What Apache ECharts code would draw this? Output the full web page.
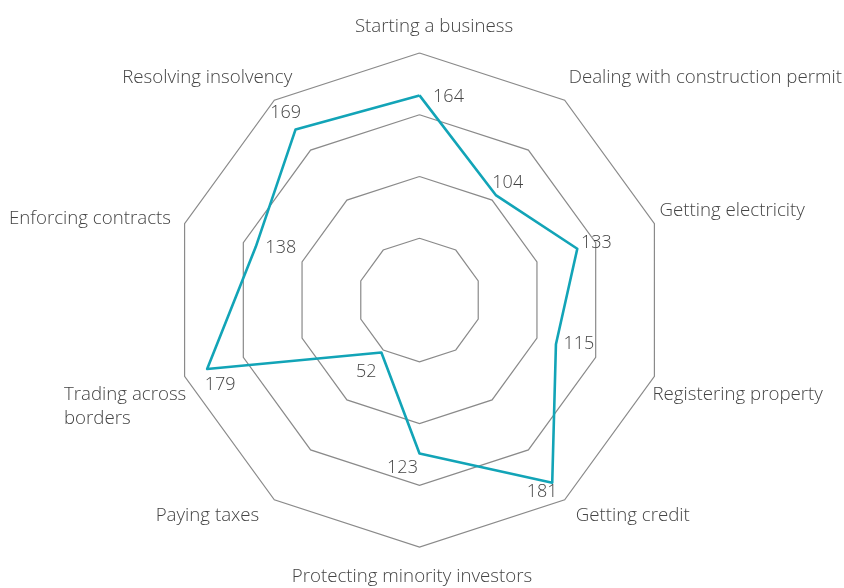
<!DOCTYPE html>
<html>
<head>
<meta charset="utf-8">
<script src="https://cdn.jsdelivr.net/npm/echarts@6/dist/echarts.min.js"></script>
<style>
html,body{margin:0;padding:0;background:#fff;}
#chart{width:844px;height:588px;}
</style>
</head>
<body>
<div id="chart"></div>
<script>
// Indicators in clockwise order starting at the top
const indicators = [
  'Starting a business',
  'Dealing with construction permit',
  'Getting electricity',
  'Registering property',
  'Getting credit',
  'Protecting minority investors',
  'Paying taxes',
  'Trading across\nborders',
  'Enforcing contracts',
  'Resolving insolvency'
];
const values = [164, 104, 133, 115, 181, 123, 52, 179, 138, 169];
const axisMax = 198;

// styling: value label offsets from each point, and name placement from each outer vertex
const labelOffsets = [[29,1],[12,-12],[19,-6],[23,0],[-10,9],[-17,14],[-15,19],[13,16],[25,1],[-10,-17]];
const nameOffsets = [[14.5,-26],[4,-22],[5,-13],[-2,18],[11,16],[-7.5,30],[-15,16],[-120.6,30],[-13.6,-5],[18,-22]];
const nameAligns = ['center','left','left','left','left','center','right','left','right','right'];

// ECharts radar runs counter-clockwise: reorder so that the picture runs clockwise
const order = indicators.map((_, i) => (indicators.length - i) % indicators.length);
const libIndicators = order.map(i => indicators[i]);
const libValues = order.map(i => values[i]);

const chart = echarts.init(document.getElementById('chart'));
const font = '"Open Sans", "Noto Sans", sans-serif';
chart.setOption({
  animation: false,
  backgroundColor: '#fff',
  radar: {
    center: [419.5, 300],
    radius: 247,
    startAngle: 90,
    splitNumber: 4,
    shape: 'polygon',
    indicator: libIndicators.map(n => ({ name: n, max: axisMax, min: 0 })),
    axisName: { show: false },
    axisLine: { show: false },
    axisTick: { show: false },
    axisLabel: { show: false },
    splitArea: { show: false },
    splitLine: { lineStyle: { color: '#8a8a8a', width: 1.2 } }
  },
  series: [{
    type: 'radar',
    symbol: 'none',
    lineStyle: { color: '#12a4b7', width: 2.6 },
    data: [{ value: libValues }]
  }]
});

function placeLabels() {
  const radarModel = chart.getModel().getComponent('radar', 0);
  const cs = radarModel.coordinateSystem;
  const g = [];
  values.forEach((v, i) => {
    const libIdx = order.indexOf(i);
    const p = cs.dataToPoint(v, libIdx);
    g.push({
      type: 'text',
      x: p[0] + labelOffsets[i][0],
      y: p[1] + labelOffsets[i][1],
      style: {
        text: String(v),
        fill: '#444',
        font: '300 18px ' + font,
        align: 'center',
        verticalAlign: 'middle'
      },
      z: 10
    });
    const q = cs.dataToPoint(axisMax, libIdx);
    g.push({
      type: 'text',
      x: q[0] + nameOffsets[i][0],
      y: q[1] + nameOffsets[i][1],
      style: {
        text: indicators[i],
        fill: '#444',
        font: '300 18.7px ' + font,
        lineHeight: 24,
        align: nameAligns[i],
        verticalAlign: 'middle'
      },
      z: 10
    });
  });
  chart.setOption({ graphic: g });
}
placeLabels();
</script>
</body>
</html>
